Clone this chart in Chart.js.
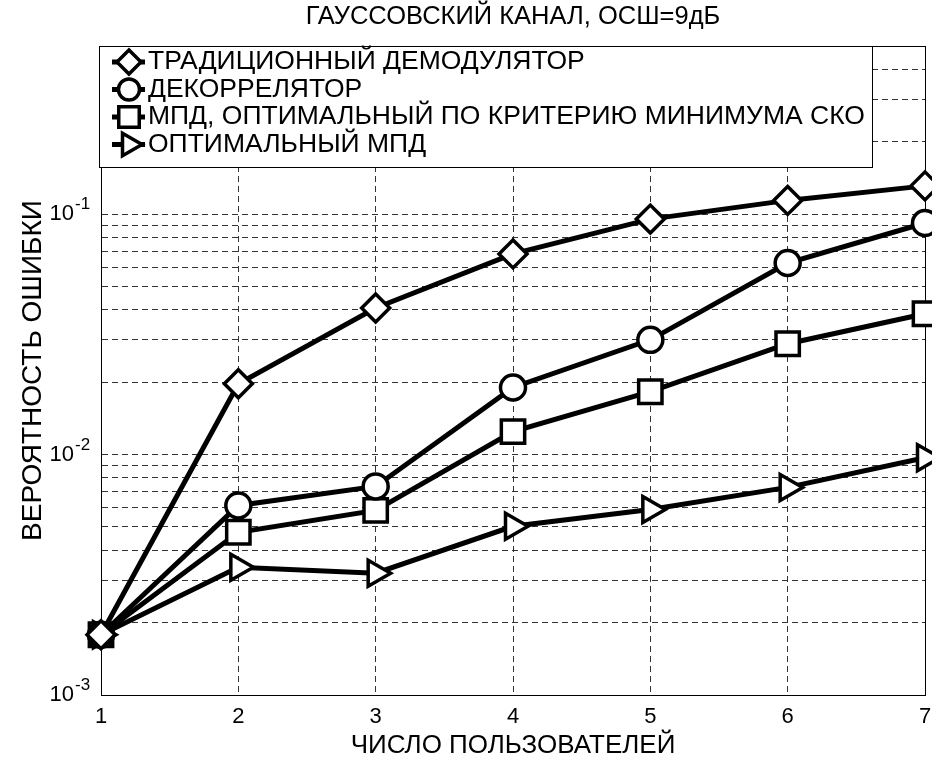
<!DOCTYPE html>
<html>
<head>
<meta charset="utf-8">
<script src="https://cdn.jsdelivr.net/npm/chart.js@4.4.0/dist/chart.umd.min.js"></script>
<style>
  html, body { margin: 0; padding: 0; background: #fff; overflow: hidden; }
  #wrap { width: 932px; height: 761px; }
  canvas { display: block; }
</style>
</head>
<body>
<div id="wrap"><canvas id="berChart" width="932" height="761"></canvas></div>
<script>
// Вероятность ошибки vs число пользователей
const users = [1, 2, 3, 4, 5, 6, 7];
const conventional = [0.00178, 0.0197, 0.0407, 0.0683, 0.0953, 0.114, 0.131];
const decorrelator = [0.00178, 0.00614, 0.00737, 0.0190, 0.0300, 0.0626, 0.0918];
const mmse = [0.00178, 0.00475, 0.00586, 0.01246, 0.01825, 0.0289, 0.0385];
const optimal = [0.00178, 0.00340, 0.00321, 0.00503, 0.00591, 0.00730, 0.00970];

const seriesLabels = [
  'ТРАДИЦИОННЫЙ ДЕМОДУЛЯТОР',
  'ДЕКОРРЕЛЯТОР',
  'МПД, ОПТИМАЛЬНЫЙ ПО КРИТЕРИЮ МИНИМУМА СКО',
  'ОПТИМАЛЬНЫЙ МПД'
];
const yTicks = [
  0.001, 0.002, 0.003, 0.004, 0.005, 0.006, 0.007, 0.008, 0.009,
  0.01, 0.02, 0.03, 0.04, 0.05, 0.06, 0.07, 0.08, 0.09,
  0.1, 0.2, 0.3, 0.4, 0.5
];

const FONT = '"Liberation Sans", Arial, sans-serif';

const markers = [
  { pointStyle: 'rectRot', radius: 14, rotation: 0 },
  { pointStyle: 'circle', radius: 12.5, rotation: 0 },
  { pointStyle: 'rect', radius: 16.5, rotation: 0 },
  { pointStyle: 'triangle', radius: 15, rotation: 90 }
];

function isDecade(v) {
  const l = Math.log10(v);
  return Math.abs(l - Math.round(l)) < 1e-6;
}

function makeSet(label, values, m) {
  return {
    label,
    data: values.map((v, i) => ({ x: users[i], y: v })),
    borderColor: '#000',
    borderWidth: 5,
    pointStyle: m.pointStyle,
    pointRadius: m.radius,
    pointHoverRadius: m.radius,
    pointRotation: m.rotation,
    pointBorderWidth: 3.5,
    pointBorderColor: '#000',
    pointBackgroundColor: '#fff',
    tension: 0,
    clip: false
  };
}

// box around the axes (top + right sides)
const framePlugin = {
  id: 'frame',
  beforeDatasetsDraw(chart) {
    const { ctx, chartArea: a } = chart;
    ctx.save();
    ctx.strokeStyle = '#000';
    ctx.lineWidth = 1;
    ctx.strokeRect(a.left + 0.5, a.top + 0.5, a.right - a.left, a.bottom - a.top);
    ctx.restore();
  }
};

// exponents for the 10^n labels
const exponentPlugin = {
  id: 'exponent',
  afterDraw(chart) {
    const { ctx } = chart;
    const ys = chart.scales.y;
    ctx.save();
    ctx.fillStyle = '#000';
    ctx.font = '17px ' + FONT;
    ctx.textAlign = 'left';
    ctx.textBaseline = 'alphabetic';
    ys.ticks.forEach(t => {
      if (!isDecade(t.value)) return;
      const py = ys.getPixelForValue(t.value);
      ctx.fillText(String(Math.round(Math.log10(t.value))), ys.right - 26, py - 5);
    });
    ctx.restore();
  }
};

// legend box drawn over the top of the axes
const boxLegendPlugin = {
  id: 'boxLegend',
  afterDraw(chart) {
    const { ctx, chartArea: a } = chart;
    const left = a.left - 2, top = a.top, w = 773, h = 121;
    ctx.save();
    ctx.fillStyle = '#fff';
    ctx.fillRect(left, top, w, h);
    ctx.strokeStyle = '#000';
    ctx.lineWidth = 1;
    ctx.strokeRect(left + 0.5, top + 0.5, w, h);
    chart.data.datasets.forEach((ds, i) => {
      const cy = top + 16 + i * 27.5;
      ctx.strokeStyle = '#000';
      ctx.lineWidth = 5;
      ctx.beginPath();
      ctx.moveTo(left + 13, cy);
      ctx.lineTo(left + 46, cy);
      ctx.stroke();
      ctx.lineWidth = 3.5;
      ctx.fillStyle = '#fff';
      const m = markers[i];
      if (Chart.helpers && Chart.helpers.drawPoint) {
        Chart.helpers.drawPoint(ctx, { pointStyle: m.pointStyle, radius: m.radius - 2, rotation: m.rotation, borderWidth: 3.5 }, left + 30, cy);
      }
      ctx.fillStyle = '#000';
      ctx.font = '26.5px ' + FONT;
      ctx.textAlign = 'left';
      ctx.textBaseline = 'middle';
      ctx.fillText(ds.label, left + 49, cy);
    });
    ctx.restore();
  }
};

const ctx = document.getElementById('berChart');
new Chart(ctx, {
  type: 'line',
  data: {
    datasets: [
      makeSet(seriesLabels[0], conventional, markers[0]),
      makeSet(seriesLabels[1], decorrelator, markers[1]),
      makeSet(seriesLabels[2], mmse, markers[2]),
      makeSet(seriesLabels[3], optimal, markers[3])
    ]
  },
  options: {
    responsive: false,
    animation: false,
    devicePixelRatio: 1,
    layout: { autoPadding: false, padding: { top: 0, right: 7, bottom: 0, left: 0 } },
    plugins: {
      legend: { display: false },
      tooltip: { enabled: false },
      title: {
        display: true,
        fullSize: false,
        text: 'ГАУССОВСКИЙ КАНАЛ, ОСШ=9дБ',
        color: '#000',
        font: { family: FONT, size: 25.5, weight: 'normal' },
        padding: { top: 2, bottom: 13.4 }
      }
    },
    scales: {
      x: {
        type: 'linear',
        min: 1,
        max: 7,
        afterFit: s => { s.height = 66; s.paddingLeft = 0; s.paddingRight = 0; },
        ticks: {
          stepSize: 1,
          color: '#000',
          padding: 9,
          font: { family: FONT, size: 22 }
        },
        grid: { color: '#333', lineWidth: 1, drawTicks: false },
        border: { color: '#000', width: 1, dash: [6, 4] },
        title: {
          display: true,
          text: 'ЧИСЛО ПОЛЬЗОВАТЕЛЕЙ',
          color: '#000',
          font: { family: FONT, size: 26 },
          padding: { top: 0, bottom: 0 }
        }
      },
      y: {
        type: 'logarithmic',
        min: 0.001,
        max: 0.5,
        afterFit: s => { s.width = 101; },
        afterBuildTicks: s => { s.ticks = yTicks.map(v => ({ value: v })); },
        ticks: {
          autoSkip: false,
          color: '#000',
          padding: 27,
          font: { family: FONT, size: 22 },
          callback: v => (isDecade(v) ? '10' : '')
        },
        grid: { color: '#333', lineWidth: 1, drawTicks: false },
        border: { color: '#000', width: 1, dash: [6, 4] },
        title: {
          display: true,
          text: 'ВЕРОЯТНОСТЬ ОШИБКИ',
          color: '#000',
          font: { family: FONT, size: 28 },
          padding: { top: 16, bottom: 0 }
        }
      }
    }
  },
  plugins: [framePlugin, exponentPlugin, boxLegendPlugin]
});
</script>
</body>
</html>
